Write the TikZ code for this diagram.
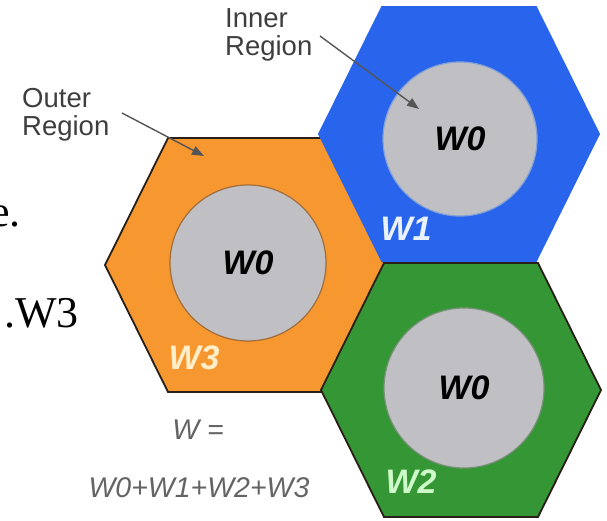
\documentclass[tikz,border=0pt]{standalone}
\usepackage{fontspec}
\setmainfont{Liberation Serif}
\setsansfont{Liberation Sans}
\usetikzlibrary{arrows.meta}

\definecolor{hexorange}{RGB}{247,151,48}
\definecolor{hexblue}{RGB}{40,100,236}
\definecolor{hexgreen}{RGB}{52,150,52}
\definecolor{coregray}{RGB}{192,192,196}
\definecolor{edgedark}{RGB}{40,32,24}
\definecolor{labelgray}{RGB}{62,62,62}
\definecolor{formulagray}{RGB}{100,100,100}
\definecolor{pointer}{RGB}{85,85,85}

\tikzset{
  hexcell/.pic={\path[pic actions] (-140,0) -- (-77,-127) -- (77,-127)
      -- (140,0) -- (77,127) -- (-77,127) -- cycle;},
  cell/.style={line width=1.8pt, line join=miter},
  core/.style={circle, fill=coregray, minimum size=#1, inner sep=0pt,
      line width=1.2pt, text=black,
      font=\sffamily\bfseries\itshape\fontsize{34}{34}\selectfont},
  weight/.style={font=\sffamily\bfseries\itshape\fontsize{34}{34}\selectfont},
  caption/.style={align=left, text=labelgray, inner sep=0pt,
      font=\sffamily\fontsize{27.5}{28}\selectfont},
  formula/.style={text=formulagray, inner sep=0pt,
      font=\sffamily\itshape\fontsize{28.5}{28}\selectfont},
  slidetext/.style={inner sep=0pt, font=\fontsize{44}{44}\selectfont},
  pointerline/.style={draw=pointer, line width=1.4pt,
      -{Triangle[length=12pt,width=9pt]}},
}

\begin{document}
\begin{tikzpicture}[x=1pt,y=-1pt]
  \useasboundingbox (0,0) rectangle (607,521);
  \clip (0,0) rectangle (607,521);

  % hexagonal cells
  \pic[cell, fill=hexorange, draw=edgedark] at (245,265) {hexcell};
  \pic[cell, fill=hexgreen, draw=edgedark] at (461,390) {hexcell};
  \pic[cell, fill=hexblue, draw=hexblue] at (459,134) {hexcell};

  % inner regions
  \node[core=156pt, draw={rgb,255:red,160;green,110;blue,60}] (coreO) at (248,263) {W0};
  \node[core=154pt, draw={rgb,255:red,130;green,160;blue,215}] (coreB) at (460,139) {W0};
  \node[core=160pt, draw={rgb,255:red,120;green,145;blue,120}] (coreG) at (464,388) {W0};

  % outer-region weights
  \node[weight, text={rgb,255:red,235;green,242;blue,255}] (w1) at (406,229) {W1};
  \node[weight, text={rgb,255:red,255;green,238;blue,200}] (w3) at (194,358) {W3};
  \node[weight, text={rgb,255:red,205;green,250;blue,200}] (w2) at (411,482) {W2};

  % region captions and pointers
  \node[caption, anchor=north west] (inner) at (225,8) {Inner\\Region};
  \node[caption, anchor=north west] (outer) at (22,88) {Outer\\Region};
  \coordinate (innerFrom) at (320,36);
  \coordinate (innerTo) at (419,109);
  \coordinate (outerFrom) at (122,113);
  \coordinate (outerTo) at (204,156);
  \draw[pointerline] (innerFrom) -- (innerTo);
  \draw[pointerline] (outerFrom) -- (outerTo);

  % total weight
  \node[formula] (weq) at (198,430) {W =};
  \node[formula] (wsum) at (199,488) {W0+W1+W2+W3};

  % slide text at the left edge
  \node[slidetext, anchor=base east] (tail) at (21,227) {e.};
  \node[slidetext, anchor=base east] (list) at (79,327) {.W3};
\end{tikzpicture}
\end{document}
